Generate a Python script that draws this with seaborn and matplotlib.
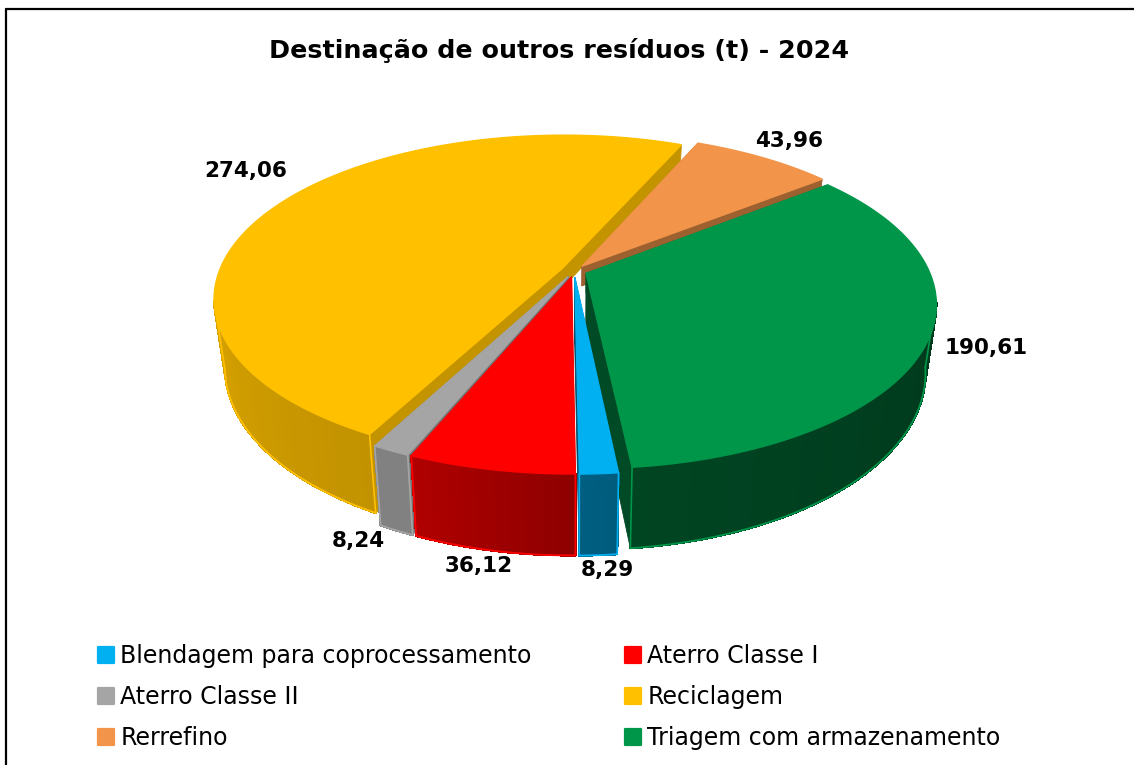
import numpy as np
import matplotlib
matplotlib.use("Agg")
import matplotlib.pyplot as plt
from matplotlib.lines import Line2D
from matplotlib.markers import MarkerStyle
from matplotlib.patches import Polygon
import seaborn as sns

sns.set_theme(style="white")
plt.rcParams['font.family'] = ['DejaVu Sans']

titulo = "Destinação de outros resíduos (t) - 2024"
categorias = ["Blendagem para coprocessamento", "Aterro Classe I", "Aterro Classe II",
              "Reciclagem", "Rerrefino", "Triagem com armazenamento"]
valores = [8.29, 36.12, 8.24, 274.06, 43.96, 190.61]
rotulos = ["8,29", "36,12", "8,24", "274,06", "43,96", "190,61"]
paleta = sns.color_palette(["#00B0F0", "#FF0000", "#A5A5A5", "#FFC000", "#F2954A", "#00964A"])

# brilho da parede lateral: (inicio, fim) ao longo do arco frontal
sombra_parede = [(0.52, 0.54), (0.56, 0.70), (0.78, 0.78), (0.76, 0.87), (0.65, 0.65), (0.36, 0.46)]
sombra_corte = [0.4, 0.5, 0.7, 0.77, 0.65, 0.5]
faixa_parede = [(-6, 0), (0, 24), (23, 29), (28, 95), (204, 233), (265, 355)]
pos_rotulos = [(607, 570), (479, 566), (358, 541), (246, 171), (789, 141), (986, 348)]
ordem = [3, 4, 5, 2, 1, 0]  # ordem de desenho

# parametros da projecao (pixels)
cx, cy, A, B, D, k = 574, 271, 343, 158.5, 66, 0.183
explode = 0.038
giro = -0.6
fuga = 0.03  # a base da pizza fica um pouco mais estreita


def proj(X, Y, prof=0.0):
    w = 1 + k * Y
    return cx + A * X / w * (1 - fuga * prof), cy - B * Y / w + D * prof / w


def poly(ax, xs, ys, cor, zorder, lw=0.6, aa=True):
    ax.add_patch(Polygon(np.column_stack([xs, ys]), closed=True, facecolor=cor,
                         edgecolor=cor, lw=lw, zorder=zorder, antialiased=aa))


fig = plt.figure(figsize=(11.34, 7.65), dpi=100)
ax = fig.add_axes([0, 0, 1, 1])
ax.set_xlim(0, 1134)
ax.set_ylim(765, 0)
ax.axis("off")

fracoes = np.array(valores) / sum(valores) * 360
inicio = giro - fracoes[0] + np.concatenate([[0], np.cumsum(fracoes)[:-1]])
fim = inicio + fracoes
meio = (inicio + fim) / 2

for n, i in enumerate(ordem):
    base = np.array(paleta[i])
    z = 10 + n
    t = np.radians(np.linspace(inicio[i], fim[i], max(int(fracoes[i] * 2), 8)))
    ox, oy = -np.sin(np.radians(meio[i])) * explode, -np.cos(np.radians(meio[i])) * explode
    X, Y = -np.sin(t) + ox, -np.cos(t) + oy

    # cortes radiais; os do fundo quase nao aparecem
    for a, b in [(X[0], Y[0]), (X[-1], Y[-1])]:
        p = 1 if b < 0 else 0.3
        x1, y1 = proj(ox, oy)
        x2, y2 = proj(a, b)
        x3, y3 = proj(a, b, p)
        x4, y4 = proj(ox, oy, p)
        poly(ax, [x1, x2, x3, x4], [y1, y2, y3, y4], tuple(base * sombra_corte[i]), z)

    # parede externa em fatias, so a parte voltada para a frente
    vis = Y < -k + 0.01
    graus = np.degrees(t)
    for j in range(len(t) - 1):
        if not (vis[j] and vis[j + 1]):
            continue
        s = np.interp(graus[j], faixa_parede[i], sombra_parede[i])
        xa, ya = proj(X[j], Y[j])
        xb, yb = proj(X[j + 1], Y[j + 1])
        xc, yc = proj(X[j + 1], Y[j + 1], 1)
        xd, yd = proj(X[j], Y[j], 1)
        poly(ax, [xa, xb, xc, xd], [ya, yb, yc, yd], tuple(base * s), z, lw=1.0, aa=False)

    # contorno claro da parede
    if vis.any():
        xb_, yb_ = proj(X[vis], Y[vis], 1)
        ax.plot(xb_, yb_, color=base, lw=1.3, zorder=z, solid_capstyle="round")
        for q in np.flatnonzero(vis)[[0, -1]]:
            x1, y1 = proj(X[q], Y[q])
            x2, y2 = proj(X[q], Y[q], 1)
            ax.plot([x1, x2], [y1, y2], color=base, lw=1.2, zorder=z)

    # face superior
    xs, ys = proj(np.r_[ox, X], np.r_[oy, Y])
    poly(ax, xs, ys, base, z, lw=1.0)

for (x, y), r in zip(pos_rotulos, rotulos):
    ax.text(x, y, r, ha="center", va="center", fontsize=15.5, fontweight="bold", color="black", zorder=40)

ax.text(559, 50, titulo, ha="center", va="center", fontsize=18.3, fontweight="bold", color="black")

# moldura do grafico (so topo e esquerda aparecem no recorte)
ax.plot([6, 6], [765, 9], color="black", lw=1.6, zorder=50)
ax.plot([6, 1134], [9, 9], color="black", lw=1.6, zorder=50)

ordem_leg = [0, 2, 4, 1, 3, 5]
alcas = [Line2D([], [], ls="none", marker=MarkerStyle("s", joinstyle="round"), markersize=11.5,
                markerfacecolor=paleta[i], markeredgecolor=paleta[i], markeredgewidth=1.6)
         for i in ordem_leg]
ax.legend(alcas, [categorias[i] for i in ordem_leg], ncol=2, frameon=False, fontsize=17,
          labelcolor="black", loc="upper left", bbox_to_anchor=(75 / 1134, 1 - 625 / 765),
          handlelength=1.0, handletextpad=0.12, columnspacing=3.77, labelspacing=0.72, borderpad=0.3)

fig.savefig("out.png", dpi=100)
